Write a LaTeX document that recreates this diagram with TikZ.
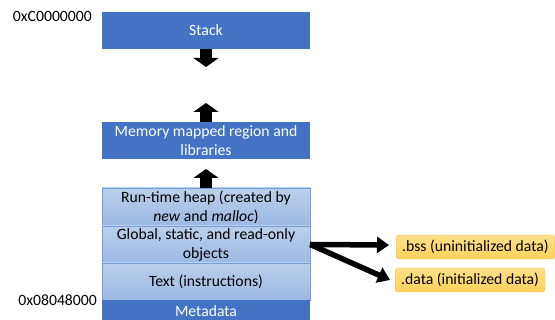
\documentclass[tikz,border=0pt]{standalone}
\usepackage{fontspec}
\setmainfont{Carlito}
\usepackage{xcolor}
\usetikzlibrary{calc}
\usetikzlibrary{arrows.meta}
\usetikzlibrary{positioning}
\definecolor{darkseg}{HTML}{4472C4}
\definecolor{segtop}{HTML}{BAD0EC}
\definecolor{segbot}{HTML}{9CB9E2}
\definecolor{segline}{HTML}{6FA0DC}
\definecolor{sectop}{HTML}{FFE08A}
\definecolor{secbot}{HTML}{FFD25A}
\definecolor{secline}{HTML}{F2B84B}
\tikzset{>=latex}
\tikzstyle{darkbox} = [rectangle, draw=none, fill=darkseg, text=white, minimum width=208pt, align=center, inner sep=0, font=\fontsize{15.7}{19}\selectfont]
\tikzstyle{lightbox} = [rectangle, draw=segline, top color=segtop, bottom color=segbot, text=black, minimum width=208pt, align=center, inner sep=0, font=\fontsize{15.7}{19}\selectfont]
\tikzstyle{secbox} = [rectangle, rounded corners=3pt, draw=secline, top color=sectop, bottom color=secbot, minimum height=24pt, inner xsep=6pt, inner ysep=0, anchor=west, font=\fontsize{15.7}{19}\selectfont]
\tikzstyle{blockarrow} = [-{Triangle[width=25pt,length=9pt]}, line width=12pt]
\tikzstyle{secarrow} = [-{Triangle[width=16pt,length=12pt]}, line width=5.5pt]

\begin{document}
\begin{tikzpicture}[x=1pt, y=-1pt]
\useasboundingbox (0,0) rectangle (555,320);
% segments
\node [darkbox, minimum height=37pt] (stack) at (206, 30.5) {Stack};
\node [darkbox, minimum height=37pt] (mmap) at (206, 140.5) {Memory mapped region and\\libraries};
\node [lightbox, minimum height=38pt] (heap) at (206, 207) {Run-time heap (created by\\\textit{new} and \textit{malloc})};
\node [lightbox, minimum height=37pt] (global) at (206, 244.5) {Global, static, and read-only\\objects};
\node [lightbox, minimum height=37pt] (text) at (206, 281.5) {Text (instructions)};
\node [darkbox, minimum height=22pt] (meta) at (206, 311) {Metadata};
% addresses
\node [anchor=east, inner sep=0, font=\fontsize{15.7}{19}\selectfont] (top) at (92, 16) {0xC0000000};
\node [anchor=east, inner sep=0, font=\fontsize{15.7}{19}\selectfont] (bottom) at (97, 300) {0x08048000};
% sections
\node [secbox] (bss) at (396, 247) {.bss (uninitialized data)};
\node [secbox] (data) at (395, 280) {.data (initialized data)};
% growth arrows
\coordinate (stackend) at (206, 67);
\coordinate (mmapend) at (206, 103);
\coordinate (heapend) at (206, 169);
\draw [blockarrow] (stack.south) to (stackend);
\draw [blockarrow] (mmap.north) to (mmapend);
\draw [blockarrow] (heap.north) to (heapend);
\draw [secarrow] (global.east) to ($(bss.west)+(-7,-2)$);
\draw [secarrow] (global.east) to ($(data.west)+(-5,0)$);
\end{tikzpicture}
\end{document}
